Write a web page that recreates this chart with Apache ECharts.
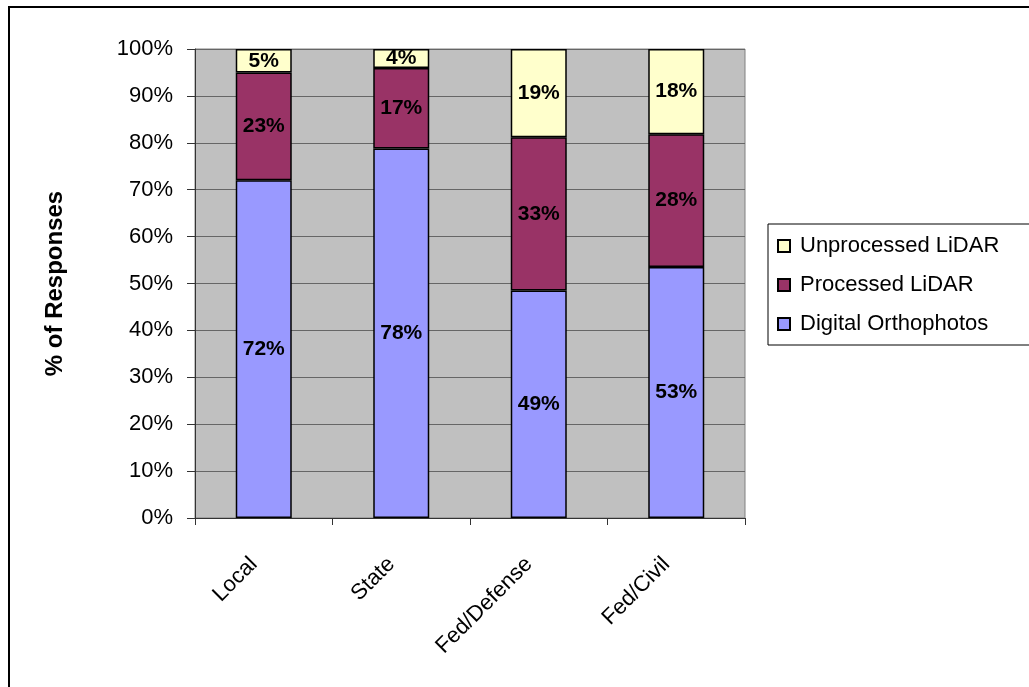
<!DOCTYPE html>
<html>
<head>
<meta charset="utf-8">
<style>
  html, body { margin: 0; padding: 0; background: #fff; }
  #chart { width: 1029px; height: 687px; }
</style>
<script src="https://cdn.jsdelivr.net/npm/echarts@6/dist/echarts.min.js"></script>
</head>
<body>
<div id="chart"></div>
<script>
const categories = ['Local', 'State', 'Fed/Defense', 'Fed/Civil'];
// percentages as printed on the bars
const digitalOrtho = [72, 78, 49, 53];
const processedLidar = [23, 17, 33, 28];
const unprocessedLidar = [5, 4, 19, 18];
const yTicks = [0, 10, 20, 30, 40, 50, 60, 70, 80, 90, 100];

const font = '"Liberation Sans", Arial, sans-serif';

// 100% stacked: each column scaled to its own total
const totals = categories.map((c, i) => digitalOrtho[i] + processedLidar[i] + unprocessedLidar[i]);
function share(arr) {
  return arr.map((v, i) => ({ value: v / totals[i] * 100, label: v }));
}

function seriesOf(name, arr, color) {
  return {
    name: name,
    type: 'bar',
    stack: 'all',
    barWidth: 56,
    data: share(arr),
    itemStyle: { color: color, borderColor: '#000', borderWidth: 1.5 },
    label: {
      show: true,
      position: 'inside',
      formatter: p => p.data.label + '%',
      color: '#000',
      fontFamily: font,
      fontWeight: 'bold',
      fontSize: 21
    }
  };
}

const chart = echarts.init(document.getElementById('chart'), null, { renderer: 'canvas' });
chart.setOption({
  animation: false,
  grid: {
    left: 195, top: 49, width: 550, height: 469,
    show: true, backgroundColor: '#c0c0c0', borderColor: '#808080', borderWidth: 1
  },
  graphic: [{
    type: 'rect',
    shape: { x: 9, y: 7, width: 1200, height: 900 },
    style: { fill: 'none', stroke: '#000', lineWidth: 2 },
    silent: true
  }],
  legend: {
    orient: 'vertical',
    left: 768, top: 224,
    data: ['Unprocessed LiDAR', 'Processed LiDAR', 'Digital Orthophotos'],
    borderColor: '#000', borderWidth: 1, borderRadius: 0,
    padding: [11, 60, 10, 9],
    itemWidth: 12, itemHeight: 12, itemGap: 17,
    icon: 'rect',
    textStyle: { fontFamily: font, fontSize: 22, color: '#000', lineHeight: 22, padding: [0, 0, 0, 5] }
  },
  xAxis: {
    type: 'category',
    data: categories,
    axisLine: { lineStyle: { color: '#333', width: 1 } },
    axisTick: { show: true, length: 7, lineStyle: { color: '#333' } },
    axisLabel: {
      rotate: 45, margin: 33, padding: [0, 14, 0, 0],
      color: '#000', fontFamily: font, fontSize: 22, interval: 0
    }
  },
  yAxis: {
    type: 'value',
    min: 0, max: 100, interval: 10,
    name: '% of Responses',
    nameLocation: 'middle',
    nameGap: 128,
    nameRotate: 90,
    nameTextStyle: { fontFamily: font, fontSize: 24, fontWeight: 'bold', color: '#000' },
    axisLine: { show: true, lineStyle: { color: '#333', width: 1 } },
    axisTick: { show: true, length: 8, lineStyle: { color: '#333' } },
    splitLine: { lineStyle: { color: '#666', width: 1 } },
    axisLabel: {
      margin: 22, color: '#000', fontFamily: font, fontSize: 22,
      formatter: v => (yTicks.indexOf(v) >= 0 ? v + '%' : '')
    }
  },
  series: [
    seriesOf('Digital Orthophotos', digitalOrtho, '#9999ff'),
    seriesOf('Processed LiDAR', processedLidar, '#993366'),
    seriesOf('Unprocessed LiDAR', unprocessedLidar, '#ffffcc')
  ]
});
</script>
</body>
</html>
